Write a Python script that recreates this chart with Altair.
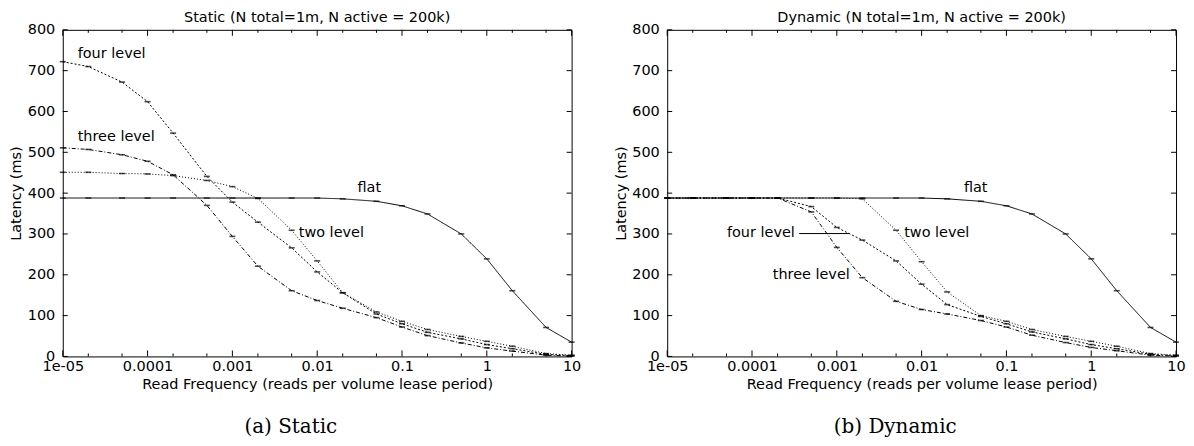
import altair as alt
import pandas as pd

# ---------------- data ----------------
freq = [1e-5, 2e-5, 5e-5, 1e-4, 2e-4, 5e-4, 1e-3, 2e-3, 5e-3, 0.01, 0.02,
        0.05, 0.1, 0.2, 0.5, 1, 2, 5, 10]
schemes = ["flat", "two level", "three level", "four level"]

static_flat = [388, 388, 388, 388, 388, 388, 388, 388, 388, 388, 386, 380, 369, 349, 300, 239, 161, 71, 35]
static_two = [451, 451, 448, 447, 443, 431, 416, 387, 309, 234, 156, 109, 86, 66, 49, 37, 25, 7, 3]
static_three = [511, 507, 494, 478, 445, 370, 294, 221, 161, 137, 118, 95, 72, 51, 33, 21, 13, 3, 1]
static_four = [722, 710, 672, 624, 547, 441, 378, 329, 266, 207, 156, 104, 80, 59, 43, 29, 19, 5, 2]

dyn_flat = [388, 388, 388, 388, 388, 388, 388, 388, 388, 388, 386, 380, 369, 349, 300, 239, 161, 71, 35]
dyn_two = [388, 388, 388, 388, 388, 388, 388, 386, 309, 232, 158, 100, 86, 66, 49, 37, 25, 7, 3]
dyn_three = [388, 388, 388, 388, 388, 354, 267, 193, 135, 115, 104, 88, 72, 52, 34, 22, 14, 3, 1]
dyn_four = [388, 388, 388, 388, 388, 367, 316, 285, 234, 177, 127, 98, 80, 60, 43, 29, 19, 5, 2]

x_major = [1e-5, 1e-4, 1e-3, 1e-2, 1e-1, 1, 10]
x_minor = [2e-5, 5e-5, 2e-4, 5e-4, 2e-3, 5e-3, 0.02, 0.05, 0.2, 0.5, 2, 5]
y_ticks = [0, 100, 200, 300, 400, 500, 600, 700, 800]

# ---------------- helpers ----------------
W, H = 511, 328
FONT = "DejaVu Sans"
FS = 14.5


def long_df(series):
    rows = []
    for name, vals in zip(schemes, series):
        for f, v in zip(freq, vals):
            rows.append({"freq": f, "latency": v, "scheme": name})
    return pd.DataFrame(rows)


xscale = alt.Scale(type="log", domain=[1e-5, 10], nice=False)
yscale = alt.Scale(domain=[0, 800], nice=False)
dash_scale = alt.Scale(domain=schemes,
                       range=[[1, 0], [1, 2], [4, 2, 1, 2], [2, 2]])

xa = alt.Axis(values=x_major,
              labelExpr="datum.value < 2e-5 ? '1e-05' : format(datum.value, '~g')",
              title="Read Frequency (reads per volume lease period)",
              ticks=False, grid=False, domain=False, labelPadding=3,
              labelFlush=False, labelOverlap=False,
              titleY=28, titleBaseline="middle")
ya = alt.Axis(values=y_ticks, title="Latency (ms)", ticks=False, grid=False,
              domain=False, labelPadding=8, labelOverlap=False,
              titleX=-46, titleY=H / 2, titleBaseline="middle")

XE = alt.X("freq:Q", scale=xscale, axis=xa)
YE = alt.Y("latency:Q", scale=yscale, axis=ya)


def text_layer(txt, px, py, size=FS, font=FONT, align="left"):
    return alt.Chart(pd.DataFrame({"t": [txt]})).mark_text(
        font=font, fontSize=size, align=align, baseline="middle", color="black"
    ).encode(x=alt.value(px), y=alt.value(py), text="t:N")


def panel(title, caption, df, labels, arrow=None):
    lines = alt.Chart(df).mark_line(color="black", strokeWidth=1).encode(
        x=XE, y=YE,
        strokeDash=alt.StrokeDash("scheme:N", scale=dash_scale, legend=None),
        detail="scheme:N",
    )
    bars = alt.Chart(df).mark_tick(orient="horizontal", size=6, thickness=1.6,
                                   color="black").encode(x=XE, y=YE)

    dmaj = pd.DataFrame({"freq": x_major})
    dmin = pd.DataFrame({"freq": x_minor})
    dy = pd.DataFrame({"latency": y_ticks})
    tk = dict(color="black", strokeWidth=1)
    ticks = [
        alt.Chart(dmaj).mark_rule(**tk).encode(x=XE, y=alt.value(H), y2=alt.value(H - 6)),
        alt.Chart(dmaj).mark_rule(**tk).encode(x=XE, y=alt.value(0), y2=alt.value(6)),
        alt.Chart(dmin).mark_rule(**tk).encode(x=XE, y=alt.value(H), y2=alt.value(H - 3)),
        alt.Chart(dmin).mark_rule(**tk).encode(x=XE, y=alt.value(0), y2=alt.value(3)),
        alt.Chart(dy).mark_rule(**tk).encode(y=YE, x=alt.value(0), x2=alt.value(5)),
        alt.Chart(dy).mark_rule(**tk).encode(y=YE, x=alt.value(W), x2=alt.value(W - 5)),
    ]

    layers = [lines, bars] + ticks
    if arrow is not None:
        adf = pd.DataFrame({"freq": [arrow[0]], "freq2": [arrow[1]], "latency": [arrow[2]]})
        layers.append(alt.Chart(adf).mark_rule(color="black", strokeWidth=1).encode(
            x=XE, x2="freq2:Q", y=YE))
    for (t, px, py) in labels:
        layers.append(text_layer(t, px, py))
    layers.append(text_layer(title, W / 2, -12, align="center"))
    layers.append(text_layer(caption, 229, 399, size=20, font="DejaVu Serif", align="center"))

    return alt.layer(*layers).properties(width=W, height=H)


df_static = long_df([static_flat, static_two, static_three, static_four])
df_dyn = long_df([dyn_flat, dyn_two, dyn_three, dyn_four])

p1 = panel("Static (N total=1m, N active = 200k)", "(a) Static", df_static,
           [("four level", 15, 24), ("three level", 15, 108),
            ("flat", 296, 159), ("two level", 237, 204)])
p2 = panel("Dynamic (N total=1m, N active = 200k)", "(b) Dynamic", df_dyn,
           [("four level", 60, 204), ("three level", 106, 246),
            ("flat", 298, 159), ("two level", 238, 204)],
           arrow=(3.6e-4, 1.4e-3, 301))

chart = alt.hconcat(p1, p2, spacing=96, bounds="flush").properties(
    padding={"left": 0, "top": 0, "right": 0, "bottom": 0}
).configure_view(stroke="black", strokeWidth=1).configure_axis(
    labelFont=FONT, titleFont=FONT, labelFontSize=FS, titleFontSize=FS,
    labelColor="black", titleColor="black", titleFontWeight="normal"
)

chart.save("out.html", embed_options={"renderer": "svg", "actions": False})
